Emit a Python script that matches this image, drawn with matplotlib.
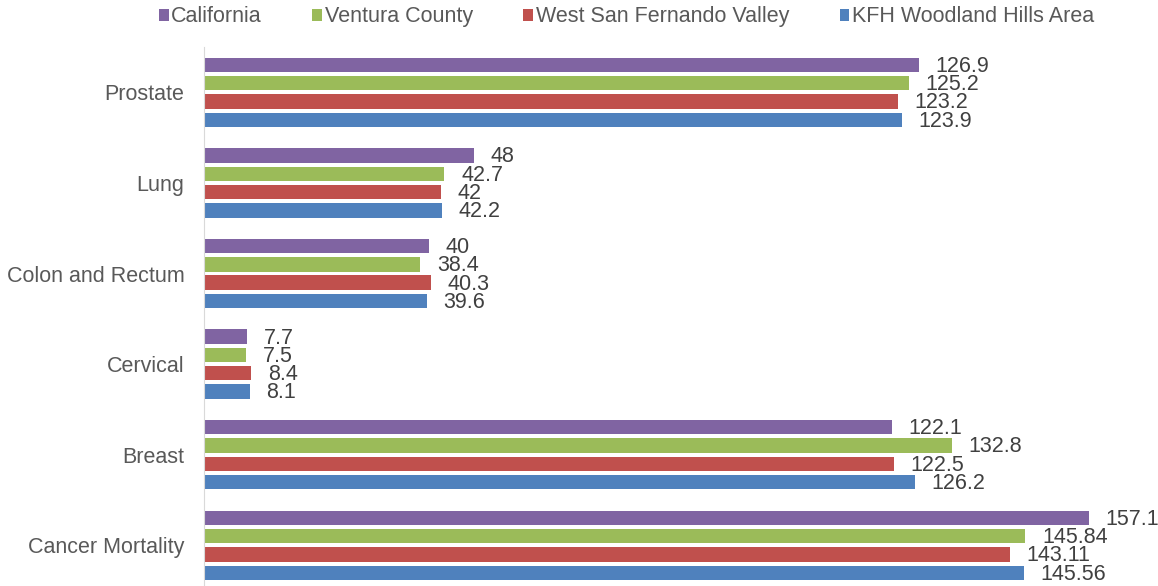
import matplotlib.pyplot as plt
import numpy as np

plt.rcParams['font.family'] = ['Liberation Sans', 'DejaVu Sans']

categories = ['Prostate', 'Lung', 'Colon and Rectum', 'Cervical', 'Breast', 'Cancer Mortality']
series = ['California', 'Ventura County', 'West San Fernando Valley', 'KFH Woodland Hills Area']
california = [126.9, 48, 40, 7.7, 122.1, 157.1]
ventura = [125.2, 42.7, 38.4, 7.5, 132.8, 145.84]
west_sfv = [123.2, 42, 40.3, 8.4, 122.5, 143.11]
kfh = [123.9, 42.2, 39.6, 8.1, 126.2, 145.56]
colors = ['#8064A2', '#9BBB59', '#C0504D', '#4F81BD']

values = [california, ventura, west_sfv, kfh]
fs = 15.5

fig = plt.figure(figsize=(11.58, 5.86), dpi=100)
# plot area runs a few pixels past the bottom edge, like the original
ax = fig.add_axes([204 / 1158, -4.6 / 586, 901 / 1158, 543.6 / 586])

n = len(categories)
ypos = np.arange(n)[::-1]  # first category on top
pitch = 0.202
height = 0.158
offsets = [1.5, 0.5, -0.5, -1.5]

for vals, name, col, off in zip(values, series, colors, offsets):
    bars = ax.barh(ypos + off * pitch, vals, height=height, color=col, label=name)
    for b, v in zip(bars, vals):
        ax.annotate(f'{v:g}', (b.get_width(), b.get_y() + b.get_height() / 2),
                    xytext=(12, -1), textcoords='offset points', va='center', ha='left',
                    fontsize=fs, color='#404040', annotation_clip=False)

ax.set_xlim(0, 160)
ax.set_ylim(-0.5, n - 0.5)
ax.set_yticks(ypos)
ax.set_yticklabels(categories, fontsize=fs, color='#595959')
ax.tick_params(axis='y', length=0, pad=14)
ax.set_xticks([])
for s in ['top', 'right', 'bottom']:
    ax.spines[s].set_visible(False)
ax.spines['left'].set_color('#D9D9D9')

fig.legend(loc='center', bbox_to_anchor=(0.541, 0.971), ncol=4, frameon=False,
           fontsize=fs, handlelength=0.45, handleheight=0.45, handletextpad=0.12,
           columnspacing=2.35, labelcolor='#595959')

fig.savefig('out.png', dpi=100)
